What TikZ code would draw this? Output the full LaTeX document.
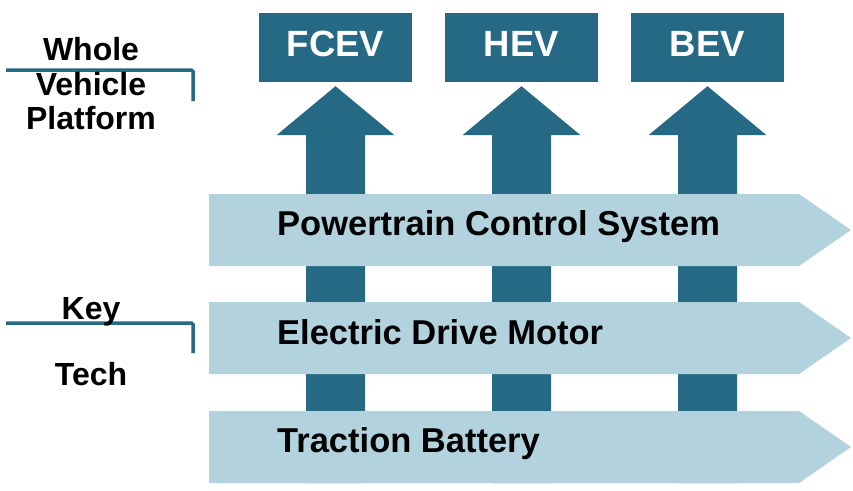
\documentclass[tikz,border=0pt]{standalone}
\usepackage{fontspec}
\setmainfont{Liberation Sans}
\definecolor{dteal}{HTML}{256985}
\definecolor{lblue}{HTML}{B2D3DE}
\begin{document}
\begin{tikzpicture}[x=1pt,y=-1pt,
  topbox/.style={fill=dteal,draw=none,minimum width=153pt,minimum height=69pt,inner sep=0pt},
  toptext/.style={text=white,font=\fontsize{36.5}{40}\selectfont\bfseries,anchor=base,inner sep=0pt},
  upshape/.style={fill=dteal},
  bandshape/.style={fill=lblue},
  bandtext/.style={font=\fontsize{34.5}{38}\selectfont\bfseries,anchor=base west,inner sep=0pt},
  sidetext/.style={font=\fontsize{32}{35}\selectfont\bfseries,anchor=base,inner sep=0pt},
  bracket/.style={draw=dteal,line width=3.5pt,rounded corners=1.5pt}]
\useasboundingbox (0,0) rectangle (853,490);

% bracket lines
\draw[bracket] (6,70) -- (193,70) -- (193,101);
\draw[bracket] (6,323) -- (193,323) -- (193,353);

% side labels
\node[sidetext] (w1) at (91,60) {Whole};
\node[sidetext] (w2) at (91,95) {Vehicle};
\node[sidetext] (w3) at (91,129) {Platform};
\node[sidetext] (k1) at (91,319) {Key};
\node[sidetext] (k2) at (91,385) {Tech};

% top boxes
\node[topbox] (fcev) at (335.5,47.5) {};
\node[topbox] (hev) at (521.5,47.5) {};
\node[topbox] (bev) at (707.5,47.5) {};
\node[toptext] (fcevt) at ([yshift=-8.5pt]fcev.center) {FCEV};
\node[toptext] (hevt) at ([yshift=-8.5pt]hev.center) {HEV};
\node[toptext] (bevt) at ([yshift=-8.5pt]bev.center) {BEV};

% up arrows
\foreach \b in {fcev,hev,bev}{
  \fill[upshape] (\b.south) ++(0,4) -- ++(59,49) -- ++(-29.5,0) -- ++(0,348)
     -- ++(-59,0) -- ++(0,-348) -- ++(-29.5,0) -- cycle;
}

% bands
\fill[bandshape] (209,194) -- (799,194) -- (851,230) -- (799,266) -- (209,266) -- cycle;
\fill[bandshape] (209,302) -- (799,302) -- (851,338) -- (799,374) -- (209,374) -- cycle;
\fill[bandshape] (209,411) -- (799,411) -- (851,447) -- (799,483) -- (209,483) -- cycle;

\node[bandtext] (pcs) at (277,235) {Powertrain Control System};
\node[bandtext] (edm) at (277,344) {Electric Drive Motor};
\node[bandtext] (tb) at (277,452) {Traction Battery};
\end{tikzpicture}
\end{document}
